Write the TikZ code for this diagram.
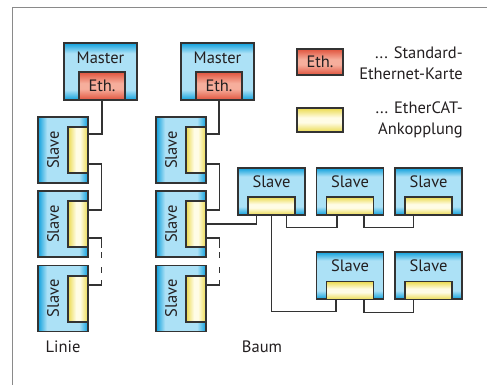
\documentclass[tikz,border=0pt]{standalone}
\usepackage{fontspec}
\setmainfont{PT Sans}
\definecolor{blueedge}{HTML}{0FA0DC}
\definecolor{bluemid}{HTML}{ACE1F6}
\definecolor{rededge}{HTML}{E0533D}
\definecolor{redmid}{HTML}{F6AE9C}
\definecolor{yeledge}{HTML}{EBDA4E}
\definecolor{yelmid}{HTML}{FFFCE6}
\definecolor{linegray}{HTML}{333333}
\definecolor{textgray}{HTML}{231F20}
\definecolor{framegray}{HTML}{8A8A8A}
\pgfdeclareverticalshading{blueshade}{100bp}{color(0bp)=(blueedge); color(25bp)=(blueedge); color(34bp)=(bluemid); color(66bp)=(bluemid); color(75bp)=(blueedge); color(100bp)=(blueedge)}
\pgfdeclareverticalshading{redshade}{100bp}{color(0bp)=(rededge); color(25bp)=(rededge); color(45bp)=(redmid); color(55bp)=(redmid); color(75bp)=(rededge); color(100bp)=(rededge)}
\pgfdeclareverticalshading{yelshade}{100bp}{color(0bp)=(yeledge); color(25bp)=(yeledge); color(45bp)=(yelmid); color(55bp)=(yelmid); color(75bp)=(yeledge); color(100bp)=(yeledge)}
\begin{document}
\begin{tikzpicture}[x=1pt,y=-1pt,
  lbl/.style={font=\fontsize{16.5}{21}\selectfont, text=textgray, inner sep=0pt},
  box/.style={draw=linegray, line width=1.2pt, inner sep=0pt},
  master/.style={box, shading=blueshade, minimum width=73pt, minimum height=57pt},
  slave/.style={box, shading=blueshade, minimum width=67pt, minimum height=47pt},
  vslave/.style={box, shading=blueshade, shading angle=90, minimum width=50pt, minimum height=66pt},
  eth/.style={box, lbl, shading=redshade, minimum width=46pt, minimum height=28pt},
  port/.style={box, shading=yelshade, minimum width=47pt, minimum height=18pt},
  vport/.style={box, shading=yelshade, shading angle=90, minimum width=20pt, minimum height=46pt},
  wire/.style={draw=linegray, line width=1.2pt}]
\useasboundingbox (0,0) rectangle (487,385);
\draw[framegray, line width=1pt] (12,385) |- (487,8);
% Linie
\node[master] (m1) at (100.5,71.5) {};
\node[lbl] (m1t) at (100.5,58) {Master};
\node[eth] (m1e) at (102,86) {Eth.};
\node[vslave] (l1) at (63,150) {};
\node[vport] (l1p) at (78,150) {};
\node[lbl, rotate=90] (l1t) at (53,150) {Slave};
\node[vslave] (l2) at (63,224) {};
\node[vport] (l2p) at (78,224) {};
\node[lbl, rotate=90] (l2t) at (53,224) {Slave};
\node[vslave] (l3) at (63,298.5) {};
\node[vport] (l3p) at (78,299) {};
\node[lbl, rotate=90] (l3t) at (53,298.5) {Slave};
\node[lbl] (linie) at (63,347) {Linie};
\draw[wire] (m1e.south) |- ([yshift=16pt]l1p.east);
\draw[wire] ([yshift=-14pt]l1p.east) -- ++(13,0) |- ([yshift=14pt]l2p.east);
\draw[wire, dash pattern=on 23pt off 4pt on 6pt off 9pt on 6pt off 7pt on 18pt] ([yshift=-14pt]l2p.east) -- ++(13,0) |- ([yshift=14pt]l3p.east);
% Baum
\node[master] (m2) at (217.5,71.5) {};
\node[lbl] (m2t) at (217.5,58) {Master};
\node[eth] (m2e) at (219,86) {Eth.};
\node[vslave] (b1) at (181,150) {};
\node[vport] (b1p) at (196,150) {};
\node[lbl, rotate=90] (b1t) at (171,150) {Slave};
\node[vslave] (b2) at (181,224) {};
\node[vport] (b2p) at (196,224) {};
\node[lbl, rotate=90] (b2t) at (171,224) {Slave};
\node[vslave] (b3) at (181,298.5) {};
\node[vport] (b3p) at (196,299) {};
\node[lbl, rotate=90] (b3t) at (171,298.5) {Slave};
\node[lbl] (baum) at (262,347) {Baum};
\draw[wire] (m2e.south) |- ([yshift=16pt]b1p.east);
\draw[wire] ([yshift=-14pt]b1p.east) -- ++(13,0) |- ([yshift=14pt]b2p.east);
\draw[wire, dash pattern=on 23pt off 4pt on 6pt off 9pt on 6pt off 7pt on 18pt] ([yshift=-14pt]b2p.east) -- ++(13,0) |- ([yshift=14pt]b3p.east);
\node[slave] (h1) at (271.5,191.5) {};
\node[port] (h1p) at (271.5,206) {};
\node[lbl] (h1t) at (271.5,182) {Slave};
\node[slave] (h2) at (350,191.5) {};
\node[port] (h2p) at (350,206) {};
\node[lbl] (h2t) at (350,182) {Slave};
\node[slave] (h3) at (428.5,191.5) {};
\node[port] (h3p) at (428.5,206) {};
\node[lbl] (h3t) at (428.5,182) {Slave};
\node[slave] (k1) at (350,275.5) {};
\node[port] (k1p) at (350,290.5) {};
\node[lbl] (k1t) at (350,266) {Slave};
\node[slave] (k2) at (428.5,275.5) {};
\node[port] (k2p) at (428.5,290.5) {};
\node[lbl] (k2t) at (428.5,266) {Slave};
\draw[wire] (b2p.east) -| ([xshift=-15pt]h1p.south);
\draw[wire] ([xshift=15pt]h1p.south) -- ++(0,12) -| ([xshift=-13pt]h2p.south);
\draw[wire] ([xshift=14pt]h2p.south) -- ++(0,12) -| ([xshift=-15pt]h3p.south);
\draw[wire] (h1p.south) -- ++(0,96) -| ([xshift=-14pt]k1p.south);
\draw[wire] ([xshift=14pt]k1p.south) -- ++(0,12) -| ([xshift=-15pt]k2p.south);
% Legende
\node[eth, minimum height=26pt] (leth) at (320,62) {Eth.};
\node[port, minimum width=46pt, minimum height=24pt] (lport) at (320,120) {};
\node[lbl, anchor=east, align=right] (lethtext) at (463,63.5) {... Standard-\\Ethernet-Karte};
\node[lbl, anchor=east, align=right] (lporttext) at (463,119.5) {... EtherCAT-\\Ankopplung};
\end{tikzpicture}
\end{document}
